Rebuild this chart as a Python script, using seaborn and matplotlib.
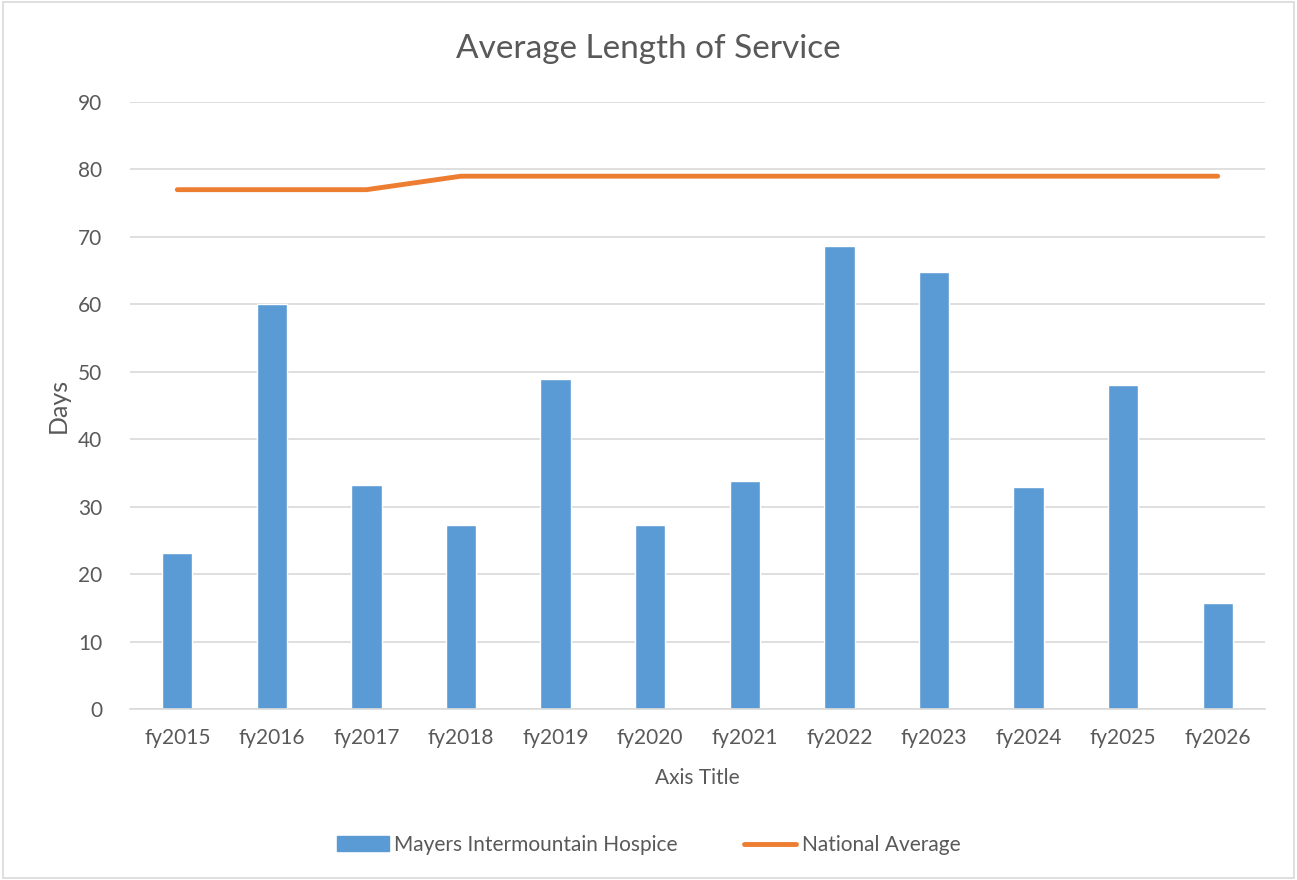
import matplotlib
matplotlib.use("Agg")
import matplotlib.pyplot as plt
import seaborn as sns
import numpy as np
import pandas as pd
from matplotlib.patches import Rectangle
from matplotlib.lines import Line2D
from matplotlib.patches import Patch

categories = ["fy2015", "fy2016", "fy2017", "fy2018", "fy2019", "fy2020",
              "fy2021", "fy2022", "fy2023", "fy2024", "fy2025", "fy2026"]
hospice_days = [23.2, 60.0, 33.2, 27.3, 48.9, 27.3, 33.8, 68.6, 64.8, 32.9, 48.1, 15.7]
national_avg = [77, 77, 77, 79, 79, 79, 79, 79, 79, 79, 79, 79]
y_ticks = [0, 10, 20, 30, 40, 50, 60, 70, 80, 90]

sns.set_theme(style="white")
plt.rcParams['font.family'] = ['Lato', 'DejaVu Sans']
txt = "#595959"
grid = "#d9d9d9"
blue = "#5b9bd5"
orange = "#ed7d31"

fig = plt.figure(figsize=(12.97, 8.8), dpi=100)
ax = fig.add_axes([130/1297, 1-709/880, 1135/1297, 607/880])

df = pd.DataFrame({"cat": categories, "days": hospice_days,
                   "pos": np.arange(len(categories)), "nat": national_avg})
sns.barplot(data=df, x="cat", y="days", color=blue, width=0.32, saturation=1,
            ax=ax, zorder=2)
sns.lineplot(data=df, x="pos", y="nat", color=orange, linewidth=3.5, ax=ax,
             zorder=3, solid_capstyle="round")

ax.set_xlim(-0.5, len(categories) - 0.5)
ax.set_ylim(0, 90)
ax.set_yticks(y_ticks)
ax.set_xticks(np.arange(len(categories)))
ax.set_xticklabels(categories)
ax.yaxis.grid(True, color=grid, linewidth=1.2, zorder=0)
ax.set_axisbelow(True)
for s in ["top", "right", "left"]:
    ax.spines[s].set_visible(False)
ax.spines["bottom"].set_color(grid)
ax.spines["bottom"].set_linewidth(1.2)
ax.tick_params(axis="both", length=0, labelsize=15, colors=txt)
ax.tick_params(axis="x", pad=14)
ax.tick_params(axis="y", pad=20)
ax.set_xlabel("Axis Title", fontsize=15, color=txt, labelpad=14)
ax.set_ylabel("Days", fontsize=18, color=txt, labelpad=6)
fig.text(0.5, 1-49/880, "Average Length of Service", ha="center", va="center",
         fontsize=24, color=txt)

handles = [Patch(facecolor=blue, edgecolor=blue),
           Line2D([0], [0], color=orange, linewidth=3.5)]
fig.legend(handles, ["Mayers Intermountain Hospice", "National Average"],
           loc="center", bbox_to_anchor=(0.5, 1-845/880), ncol=2, frameon=False,
           fontsize=15, labelcolor=txt, handlelength=2.5, handleheight=0.7,
           columnspacing=3.2, handletextpad=0.25)

fig.patches.append(Rectangle((0.002, 0.002), 0.996, 0.996, transform=fig.transFigure,
                             fill=False, edgecolor=grid, linewidth=1.2))
fig.savefig("out.png", dpi=100)
